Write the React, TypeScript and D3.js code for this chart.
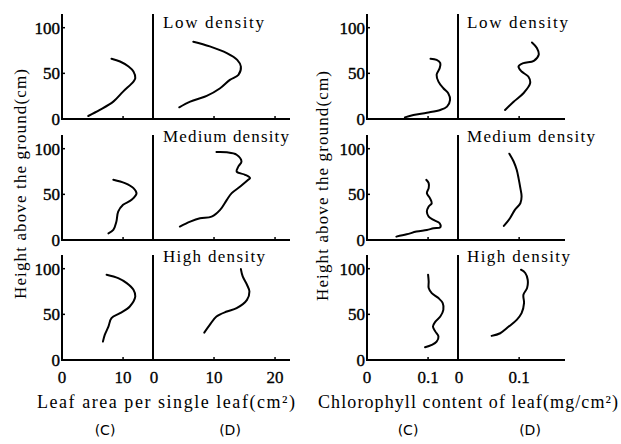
import React from "react";
import * as d3 from "d3";

// ---------- data: [value, height(cm)] ----------
const densities = ["Low density", "Medium density", "High density"];
const heightTicks = [0, 50, 100];

// Leaf area per single leaf (cm^2)
const leafC_low = [[4.3,3.3],[6.2,9.9],[8.4,19],[10.0,30],[11.7,41],[12.0,44.7],[11.7,52],[10.9,57.5],[9.5,63],[8.1,66]];
const leafD_low = [[4.3,12.8],[6.1,19],[8.8,25.3],[11.0,33.7],[12.6,42.9],[14.0,48.4],[14.4,57.5],[13.8,64.8],[12.1,72.2],[9.3,79.5],[6.6,84.6]];
const leafC_med = [[7.6,7.3],[8.4,11],[8.9,20],[9.2,31],[10.0,38.5],[11.4,44],[12.2,51],[11.7,56.8],[10.3,62.3],[8.4,66]];
const leafD_med = [[4.4,14.7],[6.1,20.1],[7.7,23.8],[9.6,25.6],[11.0,33],[12.1,44],[12.9,51.3],[14.3,58.6],[15.6,65.9],[15.9,67.8],[15.1,71.4],[13.7,75],[14.0,80.6],[14.5,86],[13.7,93.4],[12.1,96],[10.4,96.3]];
const leafC_high = [[6.7,20.1],[7.0,27.5],[7.6,36.6],[8.1,45.8],[9.5,51.3],[11.1,58.6],[12.0,69.6],[11.7,76.9],[10.6,84.2],[9.2,89.7],[7.3,93.4]];
const leafD_high = [[8.4,30],[9.3,38.5],[10.4,47.6],[12.1,53.1],[13.7,56.8],[15.4,65.9],[15.8,75],[15.4,82.4],[14.7,91.6],[14.4,99.6]];

// Chlorophyll content of leaf (mg/cm^2)
const chlC_low = [[0.062,1.8],[0.076,4.4],[0.098,6.9],[0.120,9.9],[0.131,13.6],[0.136,20.9],[0.133,28.2],[0.125,33.7],[0.117,41],[0.114,48.4],[0.119,55.7],[0.120,61.2],[0.114,64.8],[0.104,66]];
const chlD_low = [[0.077,9.9],[0.091,19],[0.107,28.2],[0.118,39.2],[0.115,46.5],[0.104,52],[0.099,57.5],[0.107,61.2],[0.124,63.7],[0.132,70.3],[0.129,77.7],[0.121,83.8]];
const chlC_med = [[0.048,3.7],[0.065,6.2],[0.081,9.2],[0.098,11],[0.109,12.8],[0.120,13.9],[0.119,18.3],[0.109,22],[0.101,25.6],[0.098,31.1],[0.101,36.6],[0.106,40.3],[0.103,45.8],[0.098,51.3],[0.101,56.8],[0.101,62.3],[0.097,65.9]];
const chlD_med = [[0.075,15.4],[0.085,23.8],[0.093,33],[0.102,40.3],[0.104,47.6],[0.102,56.8],[0.099,67.8],[0.096,76.9],[0.091,86],[0.084,94.5]];
const chlC_high = [[0.095,13.9],[0.106,16.5],[0.114,20.1],[0.117,25.6],[0.112,31.1],[0.108,36.6],[0.112,42.1],[0.120,47.6],[0.125,54.9],[0.124,62.3],[0.117,67.8],[0.106,73.3],[0.101,78.8],[0.101,86],[0.100,93.4]];
const chlD_high = [[0.055,26.4],[0.069,29.3],[0.083,36.6],[0.096,44],[0.104,51.3],[0.108,62.3],[0.107,71.4],[0.113,78.8],[0.114,87.9],[0.110,95.3],[0.103,98.9]];

const leafTicksC = [0, 10];
const leafTicksD = [0, 10, 20];
const chlTicksC = [0, 0.1];
const chlTicksD = [0, 0.1];

const SERIF = "Liberation Serif, Times New Roman, Tinos, DejaVu Serif, Noto Serif, serif";
const serifStyle = { fontFamily: SERIF } as React.CSSProperties;

type Pt = number[];

interface FigSpec {
  x0: number; xMid: number; xEnd: number;
  domC: [number, number]; domD: [number, number];
  ticksC: number[]; ticksD: number[];
  fmt: (v: number) => string;
  curvesC: Pt[][]; curvesD: Pt[][];
  yTitle: [number, number];
  xTitle: string; xTitleX: number; xTitleLen: number;
  titleX: number; titleLens: number[];
  cdX: [number, number];
}

const bottoms = [119, 240, 360];
const yDomain: [number, number] = [0, 115];

function Figure({ s }: { s: FigSpec }) {
  const xC = d3.scaleLinear().domain(s.domC).range([s.x0, s.xMid]);
  const xD = d3.scaleLinear().domain(s.domD).range([s.xMid, s.xEnd]);
  return (
    <g style={serifStyle}>
      {bottoms.map((b, i) => {
        const y = d3.scaleLinear().domain(yDomain).range([b, b - 105]);
        const lineC = d3.line<Pt>().x(d => xC(d[0])).y(d => y(d[1])).curve(d3.curveCatmullRom.alpha(0.5));
        const lineD = d3.line<Pt>().x(d => xD(d[0])).y(d => y(d[1])).curve(d3.curveCatmullRom.alpha(0.5));
        return (
          <g key={i}>
            <line x1={s.x0} x2={s.x0} y1={y(115)} y2={y(0)} stroke="#000" strokeWidth={2} />
            <line x1={s.xMid} x2={s.xMid} y1={y(115)} y2={y(0)} stroke="#000" strokeWidth={2} />
            <line x1={s.x0 - 1} x2={s.xEnd} y1={y(0)} y2={y(0)} stroke="#000" strokeWidth={2} />
            {heightTicks.map(t => (
              <g key={t}>
                {t > 0 && <line x1={s.x0} x2={s.x0 + 3} y1={y(t)} y2={y(t)} stroke="#000" strokeWidth={1.5} />}
                <text x={s.x0 - 2} y={y(t)} dy="0.35em" textAnchor="end" fontSize={17}
                  stroke="#000" strokeWidth={0.4}>{t}</text>
              </g>
            ))}
            {s.ticksC.filter(t => t > 0).map(t => (
              <line key={"c" + t} x1={xC(t)} x2={xC(t)} y1={y(0)} y2={y(0) - 3} stroke="#000" strokeWidth={1.5} />
            ))}
            {s.ticksD.filter(t => t > 0).map(t => (
              <line key={"d" + t} x1={xD(t)} x2={xD(t)} y1={y(0)} y2={y(0) - 3} stroke="#000" strokeWidth={1.5} />
            ))}
            <path d={lineC(s.curvesC[i]) || ""} fill="none" stroke="#000" strokeWidth={2} strokeLinecap="round" />
            <path d={lineD(s.curvesD[i]) || ""} fill="none" stroke="#000" strokeWidth={2} strokeLinecap="round" />
            <text x={s.titleX} y={[28, 142, 262][i]} fontSize={17}
              textLength={s.titleLens[i]} lengthAdjust="spacing">{densities[i]}</text>
          </g>
        );
      })}
      {s.ticksC.map(t => (
        <text key={"lc" + t} x={xC(t)} y={383} textAnchor="middle" fontSize={17} stroke="#000" strokeWidth={0.3}>{s.fmt(t)}</text>
      ))}
      {s.ticksD.map(t => (
        <text key={"ld" + t} x={xD(t) + (t === 0 ? 1 : 0)} y={383} textAnchor="middle" fontSize={17} stroke="#000" strokeWidth={0.3}>{s.fmt(t)}</text>
      ))}
      <text transform={`translate(${s.yTitle[0]},${s.yTitle[1]}) rotate(-90)`} textAnchor="middle"
        fontSize={17} textLength={230} lengthAdjust="spacing">Height above the ground(cm)</text>
      <text x={s.xTitleX} y={408} fontSize={18} textLength={s.xTitleLen} lengthAdjust="spacing">{s.xTitle}</text>
      <text x={s.cdX[0]} y={435} textAnchor="middle" style={{ fontFamily: "DejaVu Sans, sans-serif" }} fontSize={14}>(C)</text>
      <text x={s.cdX[1]} y={435} textAnchor="middle" style={{ fontFamily: "DejaVu Sans, sans-serif" }} fontSize={14}>(D)</text>
    </g>
  );
}

const leftFig: FigSpec = {
  x0: 62, xMid: 153, xEnd: 290,
  domC: [0, 14.9], domD: [0, 22.45],
  ticksC: leafTicksC, ticksD: leafTicksD,
  fmt: v => String(v),
  curvesC: [leafC_low, leafC_med, leafC_high],
  curvesD: [leafD_low, leafD_med, leafD_high],
  yTitle: [26, 184],
  xTitle: "Leaf area per single leaf(cm²)", xTitleX: 37, xTitleLen: 258,
  titleX: 163, titleLens: [101, 126, 102],
  cdX: [105, 230],
};

const rightFig: FigSpec = {
  x0: 367, xMid: 458, xEnd: 565,
  domC: [0, 0.149], domD: [0, 0.175],
  ticksC: chlTicksC, ticksD: chlTicksD,
  fmt: v => (v === 0 ? "0" : d3.format(".1f")(v)),
  curvesC: [chlC_low, chlC_med, chlC_high],
  curvesD: [chlD_low, chlD_med, chlD_high],
  yTitle: [328, 186],
  xTitle: "Chlorophyll content of leaf(mg/cm²)", xTitleX: 318, xTitleLen: 300,
  titleX: 467, titleLens: [101, 128, 103],
  cdX: [408, 530],
};

export default function App() {
  return (
    <svg width={621} height={444} style={{ position: "absolute", left: 0, top: 0, background: "#fff" }}>
      <rect width={621} height={444} fill="#fff" />
      <Figure s={leftFig} />
      <Figure s={rightFig} />
    </svg>
  );
}
